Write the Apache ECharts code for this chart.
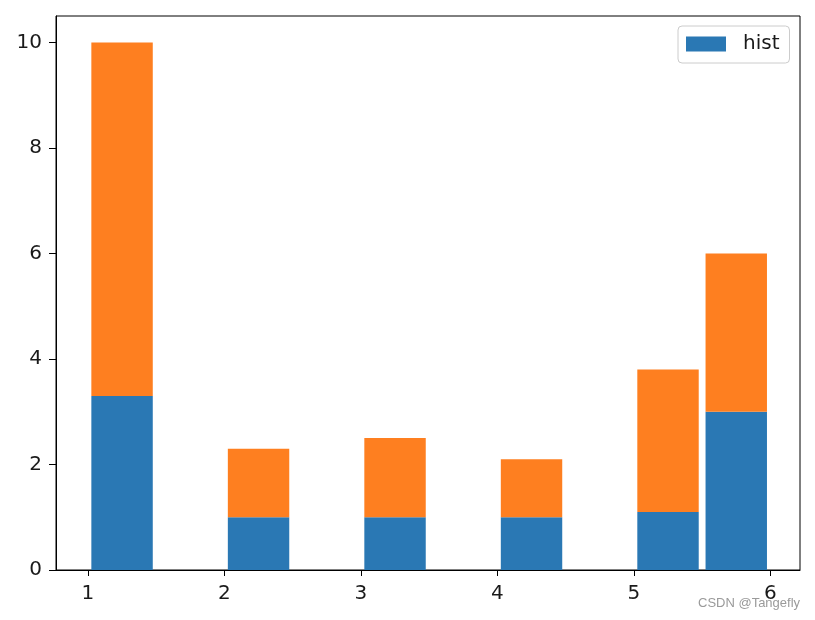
<!DOCTYPE html>
<html>
<head>
<meta charset="utf-8">
<script src="https://cdn.jsdelivr.net/npm/echarts@6/dist/echarts.min.js"></script>
<style>
  html, body { margin: 0; padding: 0; background: #fff; }
  #chart { width: 815px; height: 620px; }
</style>
</head>
<body>
<div id="chart"></div>
<script>
// ---- data ----
const binLeft = [1, 2, 3, 4, 5, 5.5];
const binRight = [1.5, 2.5, 3.5, 4.5, 5.5, 6];
const histValues = [3.3, 1, 1, 1, 1.1, 3];        // lower (blue) layer, series "hist"
const secondValues = [6.7, 1.3, 1.5, 1.1, 2.7, 3]; // upper (orange) layer, stacked on top
const xTicks = [1, 2, 3, 4, 5, 6];
const yTicks = [0, 2, 4, 6, 8, 10];
const legendName = 'hist';
const watermark = 'CSDN @Tangefly';

// ---- build ----
const rwidth = 0.9;
const lowerData = binLeft.map((l, i) => [l, binRight[i], 0, histValues[i]]);
const upperData = binLeft.map((l, i) => [l, binRight[i], histValues[i], histValues[i] + secondValues[i]]);

function renderBar(params, api) {
  const l = api.value(0), r = api.value(1), b = api.value(2), t = api.value(3);
  const pad = (r - l) * (1 - rwidth) / 2;
  const p0 = api.coord([l + pad, t]);
  const p1 = api.coord([r - pad, b]);
  return {
    type: 'rect',
    shape: { x: p0[0], y: p0[1], width: p1[0] - p0[0], height: p1[1] - p0[1] },
    style: api.style()
  };
}

const font = 'DejaVu Sans';
const chart = echarts.init(document.getElementById('chart'), null, { renderer: 'canvas' });
chart.setOption({
  animation: false,
  backgroundColor: '#ffffff',
  grid: {
    left: 56, top: 16, right: 15, bottom: 50,
    show: true, borderColor: '#000', borderWidth: 1, backgroundColor: 'transparent'
  },
  xAxis: {
    type: 'value', min: 0.766, max: 6.217,
    axisLine: { show: true, lineStyle: { color: '#000', width: 1 } },
    axisTick: { show: true, length: 6, lineStyle: { color: '#000' }, customValues: xTicks },
    axisLabel: { customValues: xTicks, margin: 14, color: '#1a1a1a', fontFamily: font, fontSize: 20 },
    splitLine: { show: false }
  },
  yAxis: {
    type: 'value', min: 0, max: 10.5,
    axisLine: { show: true, lineStyle: { color: '#000', width: 1 } },
    axisTick: { show: true, length: 7, lineStyle: { color: '#000' }, customValues: yTicks },
    axisLabel: { customValues: yTicks, margin: 14, color: '#1a1a1a', fontFamily: font, fontSize: 20 },
    splitLine: { show: false }
  },
  legend: {
    data: [{ name: legendName, icon: 'rect' }],
    left: 678, top: 26,
    padding: [8, 10, 9, 8],
    itemWidth: 40, itemHeight: 15,
    borderColor: '#cccccc', borderWidth: 1, borderRadius: 4,
    backgroundColor: 'rgba(255,255,255,0.8)',
    textStyle: { fontFamily: font, fontSize: 20, color: '#1a1a1a', padding: [0, 0, 0, 12] }
  },
  graphic: [{
    type: 'text', left: 698, top: 597, z: 0,
    style: { text: watermark, fill: '#9a9a9a', font: '13px "Liberation Sans"' }
  }],
  series: [
    {
      name: legendName, type: 'custom', renderItem: renderBar,
      itemStyle: { color: '#2a78b4' },
      encode: { x: [0, 1], y: [2, 3] },
      data: lowerData
    },
    {
      name: 'stacked', type: 'custom', renderItem: renderBar,
      itemStyle: { color: '#fe7f20' },
      encode: { x: [0, 1], y: [2, 3] },
      data: upperData
    }
  ]
});
</script>
</body>
</html>
